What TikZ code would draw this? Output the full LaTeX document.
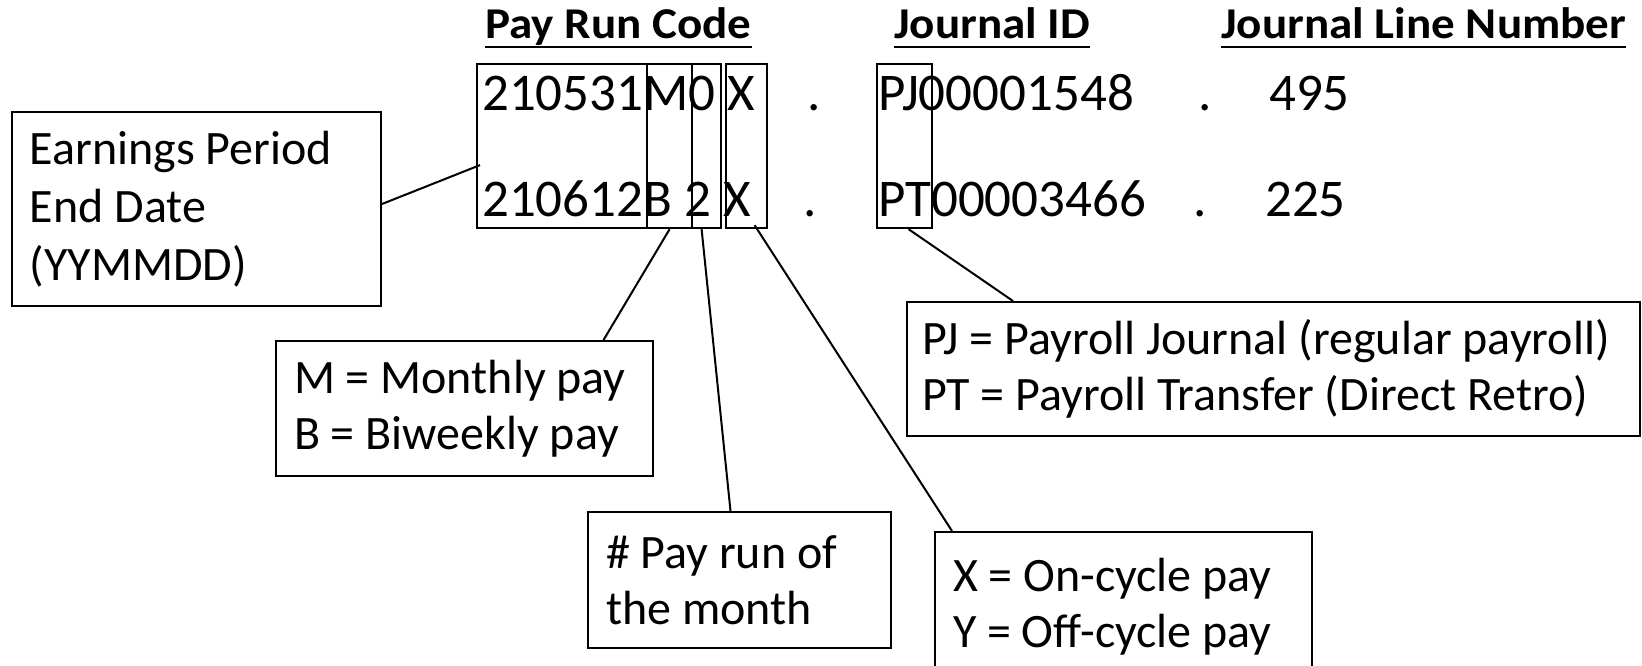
\documentclass[tikz,border=0pt]{standalone}
\usepackage{fontspec}
\setmainfont{Carlito}
\newfontfamily\headfont{Carlito}[FakeStretch=1.07]
\usetikzlibrary{positioning}
\usetikzlibrary{calc}

\newcommand{\codesize}{\fontsize{53}{60}\selectfont}
\newcommand{\notesize}{\fontsize{48}{56}\selectfont}
\newcommand{\headsize}{\fontsize{44}{50}\selectfont}

\begin{document}
\begin{tikzpicture}[x=1pt, y=-1pt,
    code/.style={anchor=base west, inner sep=0pt, font=\codesize},
    head/.style={anchor=base west, inner sep=0pt, font=\headfont\headsize\bfseries},
    frame/.style={draw, line width=2.2pt, inner sep=0pt, anchor=north west},
    note/.style={draw, line width=2pt, inner sep=0pt, font=\notesize},
    link/.style={line width=2pt}]

    \useasboundingbox (0,0) rectangle (1642,665);
    \fill[white] (0,0) rectangle (1642,665);
    \clip (0,0) rectangle (1642,665);

    % column headers
    \node[head] (hcode) at (485,38) {Pay Run Code};
    \node[head] (hjid) at (894,38) {Journal ID};
    \node[head] (hline) at (1221,38) {Journal Line Number};
    \foreach \h in {hcode,hjid,hline}
        \draw[line width=2.5pt] ([yshift=-9pt]\h.base west) -- ([yshift=-9pt]\h.base east);

    % the two example codes
    \node[code] (codea) at (482,110) {210531M0 X};
    \node[code] (dota) at (807,110) {.};
    \node[code] (jida) at (878,110) {PJ00001548};
    \node[code] (dotb) at (1198,110) {.};
    \node[code] (linea) at (1269,110) {495};

    \node[code] (codeb) at (482,216) {210612B 2 X};
    \node[code] (dotc) at (803,216) {.};
    \node[code] (jidb) at (878,216) {PT00003466};
    \node[code] (dotd) at (1193,216) {.};
    \node[code] (lineb) at (1265,216) {225};

    % frames round the parts
    \node[frame, minimum width=170pt, minimum height=164pt] (date) at (476,63) {};
    \node[frame, minimum width=45pt, minimum height=164pt] (mcode) at (646,63) {};
    \node[frame, minimum width=29pt, minimum height=164pt] (ncode) at (691,63) {};
    \node[frame, minimum width=41pt, minimum height=164pt] (xcode) at (725,63) {};
    \node[frame, minimum width=55pt, minimum height=164pt] (jcode) at (876,63) {};

    % notes
    \node[note, minimum width=369pt, minimum height=194pt] (earn) at (196.5,209) {\begin{minipage}{333pt}\raggedright\fontsize{48}{58}\selectfont
Earnings Period\\
End Date\\
(YYMMDD)
      \end{minipage}};

    \node[note, minimum width=377pt, minimum height=135pt] (freq) at (464.5,408.5) {\begin{minipage}{341pt}\raggedright
M = Monthly pay\\
B = Biweekly pay
      \end{minipage}};

    \node[note, minimum width=303pt, minimum height=136pt] (runno) at (739.5,580) {\begin{minipage}{267pt}\raggedright
\# Pay run of\\
the month
      \end{minipage}};

    \node[note, minimum width=377pt, minimum height=150pt] (cycle) at (1123.5,607) {\begin{minipage}{341pt}\raggedright
X = On-cycle pay\\
Y = Off-cycle pay
      \end{minipage}};

    \node[note, minimum width=733pt, minimum height=134pt] (jtype) at (1273.5,369) {\begin{minipage}{703pt}\raggedright
PJ = Payroll Journal (regular payroll)\\
PT = Payroll Transfer (Direct Retro)
      \end{minipage}};

    % leader lines
    \draw[link] ([yshift=5pt]earn.east) -- ([xshift=4pt,yshift=-19pt]date.west);
    \draw[link] (mcode.south) -- ([xshift=139pt]freq.north);
    \draw[link] ([xshift=-5pt]ncode.south) -- ([xshift=-9pt]runno.north);
    \draw[link] ([xshift=8pt,yshift=4pt]xcode.south) -- ([xshift=18pt]cycle.north west);
    \draw[link] ([xshift=4pt]jcode.south) -- ([xshift=107pt]jtype.north west);

  \end{tikzpicture}
\end{document}
